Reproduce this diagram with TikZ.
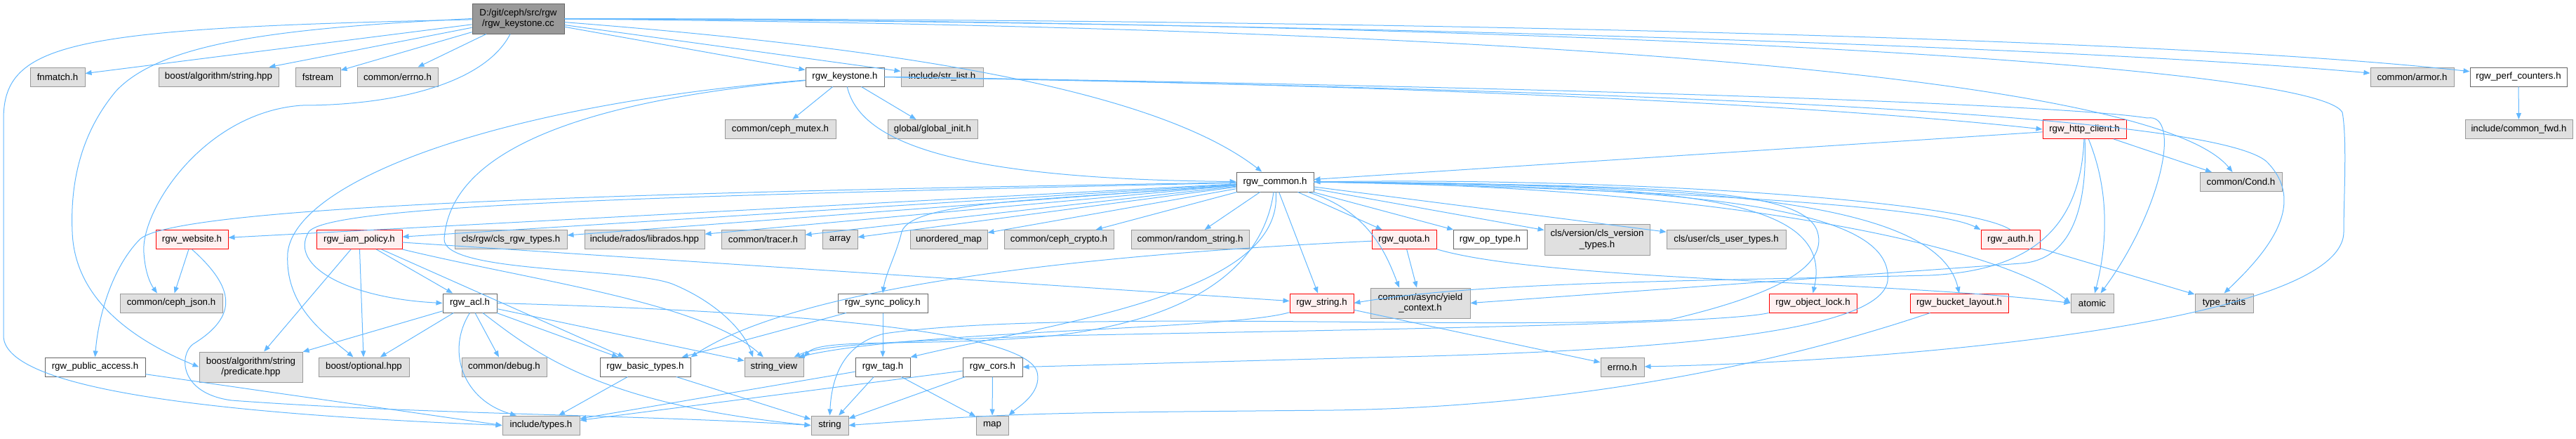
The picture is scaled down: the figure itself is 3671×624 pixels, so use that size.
\documentclass[tikz,border=0pt]{standalone}
\usepackage{fontspec}
\setmainfont{Liberation Sans}
\usetikzlibrary{arrows.meta}
\definecolor{edgeblue}{HTML}{63B8FF}
\definecolor{grayfill}{HTML}{E0E0E0}
\definecolor{grayline}{HTML}{999999}
\definecolor{darkline}{HTML}{666666}
\definecolor{topfill}{HTML}{999999}
\definecolor{redfill}{HTML}{FFF0F0}
\definecolor{redline}{HTML}{FF0000}
\tikzset{
  nbox/.style={rectangle, inner sep=0pt, minimum height=27pt, font=\fontsize{13.3}{15.5}\selectfont, align=center, line width=1pt},
  gbox/.style={nbox, draw=grayline, fill=grayfill},
  wbox/.style={nbox, draw=darkline, fill=white},
  rbox/.style={nbox, draw=redline, fill=redfill},
  tbox/.style={nbox, draw=darkline, fill=topfill},
  dep/.style={draw=edgeblue, line width=1pt, -{Triangle[length=9pt,width=7pt]}}
}
\begin{document}
\begin{tikzpicture}[x=1pt,y=-1pt]
\useasboundingbox (0,0) rectangle (3671,624);
% row 0
\node[tbox, minimum width=131pt, minimum height=43pt] (top) at (738.5,26.5) {D:/git/ceph/src/rgw\\/rgw\_keystone.cc};
% row 1
\node[gbox, minimum width=78pt] (fnmatch) at (82,109.5) {fnmatch.h};
\node[gbox, minimum width=171pt] (strhpp) at (311.5,109.5) {boost/algorithm/string.hpp};
\node[gbox, minimum width=64pt] (fstream) at (453,109.5) {fstream};
\node[gbox, minimum width=115pt] (cerrno) at (566.5,109.5) {common/errno.h};
\node[wbox, minimum width=112pt] (keystone) at (1204,109.5) {rgw\_keystone.h};
\node[gbox, minimum width=117pt] (strlist) at (1342.5,109.5) {include/str\_list.h};
\node[gbox, minimum width=119pt] (armor) at (3437.5,109.5) {common/armor.h};
\node[wbox, minimum width=138pt] (perf) at (3589,109.5) {rgw\_perf\_counters.h};
% row 2
\node[gbox, minimum width=158pt] (mutex) at (1112,184) {common/ceph\_mutex.h};
\node[gbox, minimum width=128pt] (ginit) at (1329,184) {global/global\_init.h};
\node[rbox, minimum width=119pt] (http) at (2970.5,184) {rgw\_http\_client.h};
\node[gbox, minimum width=153pt] (cfwd) at (3589.5,184) {include/common\_fwd.h};
% row 3
\node[wbox, minimum width=110pt, minimum height=28pt] (common) at (1817,259) {rgw\_common.h};
\node[gbox, minimum width=117pt] (cond) at (3193.5,259) {common/Cond.h};
% row 4
\node[rbox, minimum width=103pt] (website) at (273.5,341) {rgw\_website.h};
\node[rbox, minimum width=122pt] (iam) at (512,341) {rgw\_iam\_policy.h};
\node[gbox, minimum width=160pt] (clsrgw) at (728,341) {cls/rgw/cls\_rgw\_types.h};
\node[gbox, minimum width=171pt] (librados) at (918.5,341) {include/rados/librados.hpp};
\node[gbox, minimum width=119pt] (tracer) at (1087.5,341) {common/tracer.h};
\node[gbox, minimum width=50pt] (array) at (1197,341) {array};
\node[gbox, minimum width=110pt] (umap) at (1352,341) {unordered\_map};
\node[gbox, minimum width=156pt] (crypto) at (1509,341) {common/ceph\_crypto.h};
\node[gbox, minimum width=168pt] (rstring) at (1696,341) {common/random\_string.h};
\node[rbox, minimum width=92pt] (quota) at (2001,341) {rgw\_quota.h};
\node[wbox, minimum width=105pt] (optype) at (2123.5,341) {rgw\_op\_type.h};
\node[gbox, minimum width=150pt, minimum height=44pt] (clsver) at (2276,341) {cls/version/cls\_version\\\_types.h};
\node[gbox, minimum width=170pt] (clsuser) at (2460,341) {cls/user/cls\_user\_types.h};
\node[rbox, minimum width=84pt] (auth) at (2865,341) {rgw\_auth.h};
% row 5
\node[gbox, minimum width=146pt] (cjson) at (244,431.5) {common/ceph\_json.h};
\node[wbox, minimum width=77pt] (acl) at (669.5,431.5) {rgw\_acl.h};
\node[wbox, minimum width=128pt] (sync) at (1258,431.5) {rgw\_sync\_policy.h};
\node[rbox, minimum width=91pt] (rgwstr) at (1883.5,431.5) {rgw\_string.h};
\node[gbox, minimum width=142pt, minimum height=43pt] (yield) at (2024,431.5) {common/async/yield\\\_context.h};
\node[rbox, minimum width=125pt] (olock) at (2583.5,431.5) {rgw\_object\_lock.h};
\node[rbox, minimum width=140pt] (blayout) at (2792,431.5) {rgw\_bucket\_layout.h};
\node[gbox, minimum width=61pt] (atomic) at (2981.5,431.5) {atomic};
\node[gbox, minimum width=83pt] (ttraits) at (3169.5,431.5) {type\_traits};
% row 6
\node[wbox, minimum width=143pt] (pubacc) at (135.5,522.5) {rgw\_public\_access.h};
\node[gbox, minimum width=147pt, minimum height=43pt] (pred) at (357.5,522.5) {boost/algorithm/string\\/predicate.hpp};
\node[gbox, minimum width=129pt] (optional) at (518.5,522.5) {boost/optional.hpp};
\node[gbox, minimum width=121pt] (debug) at (718.5,522.5) {common/debug.h};
\node[wbox, minimum width=129pt] (btypes) at (919.5,522.5) {rgw\_basic\_types.h};
\node[gbox, minimum width=84pt] (sview) at (1103,522.5) {string\_view};
\node[wbox, minimum width=78pt] (tag) at (1258,522.5) {rgw\_tag.h};
\node[wbox, minimum width=85pt] (cors) at (1414.5,522.5) {rgw\_cors.h};
\node[gbox, minimum width=62pt] (errnoh) at (2312,522.5) {errno.h};
% row 7
\node[gbox, minimum width=110pt] (types) at (771,605.5) {include/types.h};
\node[gbox, minimum width=53pt] (string) at (1182.5,605.5) {string};
\node[gbox, minimum width=46pt] (map) at (1414,605.5) {map};

% ---- edges from rgw_keystone.cc
\draw[dep] (top) -- (fnmatch);
\draw[dep] (top) -- (strhpp);
\draw[dep] (top) -- (fstream);
\draw[dep] (top) -- (cerrno);
\draw[dep] (top) -- (keystone);
\draw[dep] (top) -- (strlist);
\draw[dep] (top) .. controls (2000,32) and (3000,70) .. (armor);
\draw[dep] (top) .. controls (2000,27) and (3100,55) .. (perf);
\draw[dep] (top) .. controls (1300,70) and (1650,130) .. (common);
\draw[dep] (top) .. controls (2300,40) and (3080,120) .. ([xshift=-12pt]cond.north);
\draw[dep] (top) .. controls (2200,30) and (3300,90) .. (3338,160) .. controls (3345,200) and (3340,280) .. (3340,330) .. controls (3340,460) and (2700,515) .. (errnoh);
\draw[dep] (top) .. controls (100,40) and (5,60) .. (5,170) -- (5,480) .. controls (10,540) and (200,585) .. (types.west);
\draw[dep] (top.west) .. controls (400,40) and (230,60) .. (165,130) .. controls (115,190) and (100,260) .. (103,330) .. controls (106,420) and (180,480) .. (pred.west);
\draw[dep] (top) .. controls (690,120) and (560,150) .. (430,150) .. controls (290,160) and (200,300) .. (205,360) .. controls (207,390) and (215,405) .. ([xshift=-20pt]cjson.north);
% ---- rgw_keystone.h
\draw[dep] (keystone) -- (mutex);
\draw[dep] (keystone) -- (ginit);
\draw[dep] (keystone) .. controls (1225,200) and (1350,255) .. (common);
\draw[dep] (keystone.east) .. controls (2000,120) and (2600,150) .. (http.west);
\draw[dep] (keystone.east) .. controls (2300,125) and (2950,150) .. (3060,168) .. controls (3110,160) and (3080,300) .. ([xshift=12pt]atomic.north);
\draw[dep] (keystone.east) .. controls (2300,128) and (3150,160) .. (3230,230) .. controls (3290,290) and (3230,360) .. (ttraits.north);
\draw[dep] (keystone) .. controls (700,150) and (420,260) .. (410,360) .. controls (405,440) and (470,480) .. ([xshift=-15pt]optional.north);
\draw[dep] (keystone) .. controls (760,150) and (640,240) .. (633,340) .. controls (630,390) and (900,380) .. (960,405) .. controls (1020,430) and (1060,470) .. ([xshift=-30pt]sview.north);
% ---- rgw_http_client.h
\draw[dep] (http) -- (common);
\draw[dep] (http) -- (cond);
\draw[dep] (http) .. controls (3010,280) and (3000,360) .. (atomic);
\draw[dep] (http) .. controls (2965,320) and (2900,385) .. (2750,392) .. controls (2400,400) and (2100,402) .. (rgwstr.east);
\draw[dep] (http) .. controls (2975,300) and (2950,370) .. (2880,375) -- (yield.east);
% ---- rgw_common.h
\draw[dep] (common) -- (website);
\draw[dep] (common) -- (iam);
\draw[dep] (common) -- (clsrgw);
\draw[dep] (common) -- (librados);
\draw[dep] (common) -- (tracer);
\draw[dep] (common) -- (array);
\draw[dep] (common) -- (umap);
\draw[dep] (common) -- (crypto);
\draw[dep] (common) -- (rstring);
\draw[dep] (common) -- (quota);
\draw[dep] (common) -- (optype);
\draw[dep] (common) -- (clsver);
\draw[dep] (common) -- (clsuser);
\draw[dep] (common) -- (rgwstr);
\draw[dep] (common) .. controls (1000,272) and (260,290) .. (200,340) .. controls (160,380) and (140,450) .. (pubacc.north);
\draw[dep] (common) .. controls (1000,278) and (470,290) .. (440,330) .. controls (410,380) and (500,425) .. (acl.west);
\draw[dep] (common) .. controls (1500,285) and (1300,285) .. (1285,330) .. controls (1278,360) and (1262,390) .. (sync.north);
\draw[dep] (common) .. controls (1800,380) and (1700,455) .. (1500,478) .. controls (1320,495) and (1170,480) .. (sview.north east);
\draw[dep] (common.east) .. controls (2350,265) and (2570,265) .. (2590,330) .. controls (2605,380) and (2530,420) .. (2380,455) .. controls (2100,470) and (1500,440) .. (1260,475) .. controls (1200,490) and (1185,540) .. (string.north);
\draw[dep] (common) .. controls (1830,420) and (1500,460) .. (tag.north east);
\draw[dep] (common.east) .. controls (2300,268) and (2750,290) .. (auth.north west);
\draw[dep] (auth.north) .. controls (2800,285) and (2300,252) .. (common.east);
\draw[dep] (common) .. controls (1950,300) and (1975,360) .. ([xshift=-30pt]yield.north);
\draw[dep] (common.east) .. controls (2400,262) and (2615,280) .. (olock.north);
\draw[dep] (common.east) .. controls (2400,262) and (2760,280) .. (blayout.north);
\draw[dep] (common.east) .. controls (2450,265) and (2850,350) .. (atomic.west);
\draw[dep] (common.east) .. controls (2450,265) and (2700,300) .. (2690,400) .. controls (2680,470) and (2400,500) .. (1950,509) -- (cors.east);
% ---- rgw_iam_policy.h
\draw[dep] (iam) -- (pred);
\draw[dep] (iam) -- (optional);
\draw[dep] (iam) -- (acl);
\draw[dep] (iam) -- ([xshift=-30pt]btypes.north);
\draw[dep] (iam) -- (rgwstr);
\draw[dep] (iam.south east) .. controls (760,400) and (1000,430) .. ([xshift=-15pt]sview.north);
% ---- rgw_website.h
\draw[dep] (website) -- (cjson);
\draw[dep] (website.south) .. controls (335,410) and (340,450) .. (275,490) .. controls (255,505) and (255,560) .. (330,570) .. controls (600,590) and (900,590) .. (string.west);
% ---- rgw_acl.h
\draw[dep] (acl) -- (pred);
\draw[dep] (acl) -- (optional);
\draw[dep] (acl) -- (debug);
\draw[dep] (acl) -- (btypes);
\draw[dep] (acl.south) .. controls (635,500) and (660,570) .. ([xshift=-35pt]types.north);
\draw[dep] (acl) -- (sview);
\draw[dep] (acl) .. controls (760,500) and (850,575) .. (string.west);
\draw[dep] (acl.east) .. controls (1000,440) and (1460,460) .. (1478,530) .. controls (1485,560) and (1450,580) .. (map.north east);
% ---- rgw_sync_policy.h
\draw[dep] (sync) -- (btypes);
\draw[dep] (sync) -- (tag);
% ---- rgw_basic_types.h
\draw[dep] (btypes) -- (types);
\draw[dep] (btypes) -- (string);
% ---- rgw_public_access.h
\draw[dep] (pubacc) -- (types.west);
% ---- rgw_tag.h
\draw[dep] (tag) -- (types);
\draw[dep] (tag) -- (string);
\draw[dep] (tag) -- (map);
% ---- rgw_cors.h
\draw[dep] (cors) -- (types);
\draw[dep] (cors) -- (string);
\draw[dep] (cors) -- (map);
% ---- rgw_string.h
\draw[dep] (rgwstr) .. controls (1750,470) and (1300,470) .. ([xshift=-8pt]sview.north east);
\draw[dep] (rgwstr) -- (errnoh);
% ---- rgw_quota.h
\draw[dep] (quota) -- ([xshift=-5pt]yield.north);
\draw[dep] (quota) .. controls (1600,360) and (1150,400) .. (btypes.north east);
\draw[dep] (quota) .. controls (2200,400) and (2700,400) .. (atomic.west);
% ---- rgw_auth.h
\draw[dep] (auth) -- (ttraits);
% ---- rgw_object_lock.h
\draw[dep] (olock.south west) .. controls (2450,462) and (1900,470) .. (1500,478) .. controls (1300,485) and (1170,490) .. ([xshift=-14pt]sview.north east);
% ---- rgw_bucket_layout.h
\draw[dep] (blayout) .. controls (2500,530) and (2200,580) .. (1900,584) .. controls (1450,588) .. (string.east);
% ---- rgw_perf_counters.h
\draw[dep] (perf) -- (cfwd);
\end{tikzpicture}
\end{document}
